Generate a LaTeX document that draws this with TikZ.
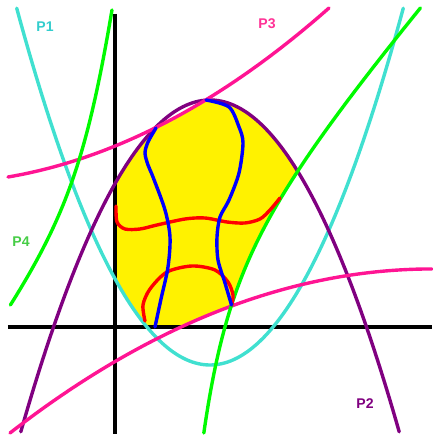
\documentclass[tikz,border=0pt]{standalone}
\usepackage{fontspec}
\setsansfont{Liberation Sans}
\usepackage{tikz}
\definecolor{turq}{RGB}{64,224,208}
\definecolor{plum}{RGB}{128,0,128}
\definecolor{rose}{RGB}{255,20,147}
\definecolor{leaf}{RGB}{0,250,0}
\definecolor{turqtext}{RGB}{50,205,205}
\definecolor{leaftext}{RGB}{70,205,70}
\definecolor{rosetext}{RGB}{255,50,150}
% the four curves, reused for clipping and drawing
\newcommand{\turqcurve}{plot[domain=-9.83:28.83, samples=120] (\x, {0.0955*(\x-9.5)*(\x-9.5)-3.8})}
\newcommand{\plumcurve}{plot[domain=-9.42:28.42, samples=120] (\x, {22.7-0.0927*(\x-9.5)*(\x-9.5)})}
\newcommand{\roseupper}{plot[domain=-10.7:21.4, samples=80] (\x, {18.093+0.4078*\x+0.0111*\x*\x})}
\newcommand{\roselower}{plot[domain=-10.5:31.7, samples=80] (\x, {-3.456+0.5838*\x-0.0092*\x*\x})}
\newcommand{\leafleft}{plot[domain=2.2:31.7, samples=80] ({-6.36+0.45*\x-0.33*sqrt((\x-10.5)*(\x-10.5)+169)}, \x)}
\newcommand{\leafright}{plot[domain=-10.6:31.9, samples=100] ({4.12+0.46*\x+0.41*sqrt((\x-7.5)*(\x-7.5)+225)}, \x)}
\begin{document}
\begin{tikzpicture}[x=0.3cm, y=0.3cm,
  curve/.style={line width=2.9pt, line cap=round},
  axisline/.style={line width=2.9pt, black},
  tag/.style={font=\sffamily\bfseries\fontsize{12}{14}\selectfont, inner sep=0pt},
]
  \useasboundingbox (-11.5,-10.8) rectangle (31.7,32.7);

  % yellow region cut out by all curves
  \begin{scope}
    \clip (0,0) rectangle (32,33);
    \clip \plumcurve -- cycle;
    \clip \turqcurve -- cycle;
    \clip \roseupper -- (21.4,-11) -- (-10.7,-11) -- cycle;
    \clip \roselower -- (31.7,33) -- (-10.5,33) -- cycle;
    \clip \leafright -- (-11.5,31.9) -- (-11.5,-10.6) -- cycle;
    \fill[yellow] (0,0) rectangle (32,33);
  \end{scope}

  \draw[axisline] (-10.7,0) -- (31.7,0);
  \draw[axisline] (0,31.3) -- (0,-10.7);

  \draw[curve, turq] \turqcurve;
  \draw[curve, plum] \plumcurve;
  \draw[curve, rose] \roseupper;
  \draw[curve, rose] \roselower;
  \draw[curve, leaf] \leafleft;
  \draw[curve, leaf] \leafright;

  % inner curves
  \draw[curve, red] plot[smooth] coordinates {(0.1,12.1) (0.2,10.5) (1.0,9.8) (2.5,9.8) (4.2,10.2)
    (7.0,10.8) (9.0,10.9) (11.2,10.5) (13.0,10.4) (14.5,10.8) (15.5,11.7) (16.5,12.9)};
  \draw[curve, red] plot[smooth] coordinates {(3.0,0.6) (2.8,2.2) (3.5,3.8) (5.2,5.5) (7.7,6.1)
    (10.0,5.7) (11.3,4.5) (11.8,3.2) (11.65,2.2)};
  \draw[curve, blue] plot[smooth] coordinates {(4.1,19.9) (3.3,18.5) (3.0,17.4) (3.3,16.2) (3.8,15.0)
    (5.0,11.7) (5.5,9.0) (5.3,6.0) (4.6,2.8) (4.0,0)};
  \draw[curve, blue] plot[smooth] coordinates {(9.1,22.7) (11.4,22.0) (12.4,20.0) (12.8,18.4) (12.4,15.4)
    (11.4,12.7) (10.5,11.0) (10.2,9.0) (10.3,6.7) (11.0,4.4) (11.65,2.2)};

  \node[tag, text=turqtext] (tagP1) at (-7.0,30.05) {P1};
  \node[tag, text=plum] (tagP2) at (25.0,-7.7) {P2};
  \node[tag, text=rosetext] (tagP3) at (15.2,30.3) {P3};
  \node[tag, text=leaftext] (tagP4) at (-9.4,8.5) {P4};
\end{tikzpicture}
\end{document}
